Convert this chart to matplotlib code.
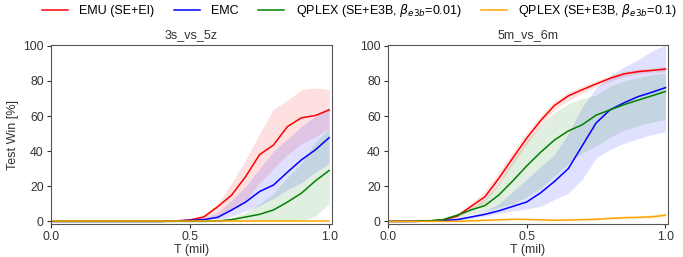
import numpy as np
import matplotlib
matplotlib.use("Agg")
import matplotlib.pyplot as plt

plt.rcParams['font.family'] = ['Liberation Sans', 'DejaVu Sans']
plt.rcParams['mathtext.fontset'] = 'dejavusans'

x = [0.0, 0.05, 0.1, 0.15, 0.2, 0.25, 0.3, 0.35, 0.4, 0.45, 0.5,
     0.55, 0.6, 0.65, 0.7, 0.75, 0.8, 0.85, 0.9, 0.95, 1.0]

# ---- 3s_vs_5z ----
a_emu_mean = [0, 0, 0, 0, 0, 0, 0, 0, 0, 0.3, 0.8, 2.5, 8.4, 15, 25.5, 38, 43.5, 54, 59, 60.3, 63.5]
a_emu_lo   = [0, 0, 0, 0, 0, 0, 0, 0, 0, 0.1, 0.4, 1, 3, 6, 12, 22, 30, 38, 44, 48, 53]
a_emu_hi   = [0, 0, 0, 0, 0, 0, 0, 0, 0, 0.6, 1.2, 4, 10, 22, 35, 50, 64, 69, 75, 76, 75]
a_emc_mean = [0, 0, 0, 0, 0, 0, 0, 0, 0, 0.2, 0.6, 1.0, 2.3, 6.5, 11, 17, 20.7, 28, 35, 40.7, 47.7]
a_emc_lo   = [0, 0, 0, 0, 0, 0, 0, 0, 0, 0.1, 0.3, 0.3, 1, 3, 6, 9, 13, 18, 22, 28, 33]
a_emc_hi   = [0, 0, 0, 0, 0, 0, 0, 0, 0, 0.4, 1.0, 1.8, 5, 12, 20, 30, 40, 47, 54, 60, 65]
a_qe1_mean = [0, 0, 0, 0, 0, 0, 0, 0, 0, 0, 0, 0, 0.2, 1, 2.5, 4, 6.5, 11, 16, 23, 29]
a_qe1_lo   = [0, 0, 0, 0, 0, 0, 0, 0, 0, 0, 0, 0, 0, 0, 0, 0, 0, 0, 0, 3, 10]
a_qe1_hi   = [0, 0, 0, 0, 0, 0, 0, 0, 0, 0, 0, 0, 0.5, 2, 5, 10, 16, 25, 33, 45, 53]
a_qe2_mean = [0] * 21
a_qe2_lo   = [0] * 21
a_qe2_hi   = [0] * 21

# ---- 5m_vs_6m ----
b_emu_mean = [0, 0, 0.1, 0.3, 0.8, 3, 8.5, 14, 24.5, 36, 47.3, 57.3, 66, 71.5, 75, 78.3, 81.5, 84, 85.3, 86, 86.8]
b_emu_lo   = [0, 0, 0, 0.1, 0.4, 2, 6.5, 11, 21, 32.5, 44, 54.5, 63.5, 69, 73, 76.5, 79.8, 82.5, 84, 85, 85.3]
b_emu_hi   = [0, 0, 0.2, 0.5, 1.2, 4, 10.5, 17, 28, 39.5, 50.5, 60, 68.5, 73.5, 77, 80, 83, 85.5, 86.8, 87.3, 88.3]
b_emc_mean = [0, 0, 0, 0.2, 0.5, 1, 2.5, 4, 6, 8.5, 11, 16.2, 22.7, 30, 43, 56, 63.5, 67.5, 71, 73.5, 76.2]
b_emc_lo   = [0, 0, 0, 0.1, 0.2, 0.5, 1.5, 3, 4.5, 6, 7, 8.5, 12.5, 16, 24, 36, 41, 44.5, 47, 49.5, 51]
b_emc_hi   = [0, 0, 0, 0.3, 0.8, 1.5, 3.5, 6, 10, 17, 24, 31, 38, 50, 65, 76, 83, 88, 92, 97, 100.5]
b_qe1_mean = [0, 0, 0, 0.3, 1, 3.5, 6.5, 9, 15, 23, 31.5, 39.3, 46.3, 51.5, 55, 60.5, 63.5, 66.5, 69, 71.5, 74]
b_qe1_lo   = [0, 0, 0, 0.1, 0.5, 2, 4, 6, 8, 10, 14, 19, 26, 33, 39, 43, 48, 52, 54.5, 56.5, 58]
b_qe1_hi   = [0, 0, 0, 0.5, 1.5, 4.5, 8, 13, 22, 35, 46, 55, 62, 67, 70, 72, 77, 80, 82, 83.5, 84.5]
b_qe2_mean = [0, 0, 0, 0, 0, 0, 0.3, 0.6, 0.9, 1.2, 1.1, 0.9, 0.6, 0.8, 1, 1.2, 1.7, 2.1, 2.3, 2.6, 3.5]
b_qe2_lo   = [0, 0, 0, 0, 0, 0, 0, 0.1, 0.3, 0.5, 0.5, 0.3, 0.2, 0.3, 0.4, 0.5, 0.9, 1.2, 1.3, 1.6, 2.3]
b_qe2_hi   = [0, 0, 0, 0, 0, 0, 0.6, 1.1, 1.6, 2.0, 1.8, 1.5, 1.1, 1.3, 1.6, 2.0, 2.6, 3.0, 3.3, 3.8, 4.8]

labels = ['EMU (SE+EI)', 'EMC', r'QPLEX (SE+E3B, $\beta_{e3b}$=0.01)', r'QPLEX (SE+E3B, $\beta_{e3b}$=0.1)']
colors = ['#ff0000', '#0000ff', '#008000', '#ffa500']
titles = ['3s_vs_5z', '5m_vs_6m']
xticks = [0.0, 0.5, 1.0]
yticks = [0, 20, 40, 60, 80, 100]

panels = [
    [(a_emu_mean, a_emu_lo, a_emu_hi), (a_emc_mean, a_emc_lo, a_emc_hi),
     (a_qe1_mean, a_qe1_lo, a_qe1_hi), (a_qe2_mean, a_qe2_lo, a_qe2_hi)],
    [(b_emu_mean, b_emu_lo, b_emu_hi), (b_emc_mean, b_emc_lo, b_emc_hi),
     (b_qe1_mean, b_qe1_lo, b_qe1_hi), (b_qe2_mean, b_qe2_lo, b_qe2_hi)],
]

fig = plt.figure(figsize=(6.83, 2.57), dpi=100)
ax_pos = [[0.0742, 0.1284, 0.4118, 0.6965], [0.5676, 0.1284, 0.4108, 0.6965]]
txt = '#333333'
handles = []
for i, (pos, series) in enumerate(zip(ax_pos, panels)):
    ax = fig.add_axes(pos)
    for j, ((m, lo, hi), c) in enumerate(zip(series, colors)):
        ax.fill_between(x, lo, hi, color=c, alpha=0.12, linewidth=0)
        ln, = ax.plot(x, m, color=c, linewidth=1.1, label=labels[j])
        if i == 0:
            handles.append(ln)
    ax.set_xlim(0, 1.01)
    ax.set_ylim(-1.5, 100.5)
    ax.set_xticks(xticks)
    ax.set_xticklabels([f'{t:.1f}' for t in xticks])
    ax.set_yticks(yticks)
    ax.set_title(titles[i], fontsize=9, color=txt, pad=5)
    ax.set_xlabel('T (mil)', fontsize=9, color=txt, labelpad=1)
    if i == 0:
        ax.set_ylabel('Test Win [%]', fontsize=9, color=txt, labelpad=3)
    ax.tick_params(labelsize=8.8, colors=txt, length=3, width=0.8, pad=2)
    for s in ax.spines.values():
        s.set_color('#555555')
        s.set_linewidth(0.8)

fig.legend(handles=handles, labels=labels, loc='upper center', bbox_to_anchor=(0.526, 1.035),
           ncol=4, frameon=False, fontsize=9, handlelength=2.1, columnspacing=1.55,
           handletextpad=0.9)

fig.savefig('out.png', dpi=100)
